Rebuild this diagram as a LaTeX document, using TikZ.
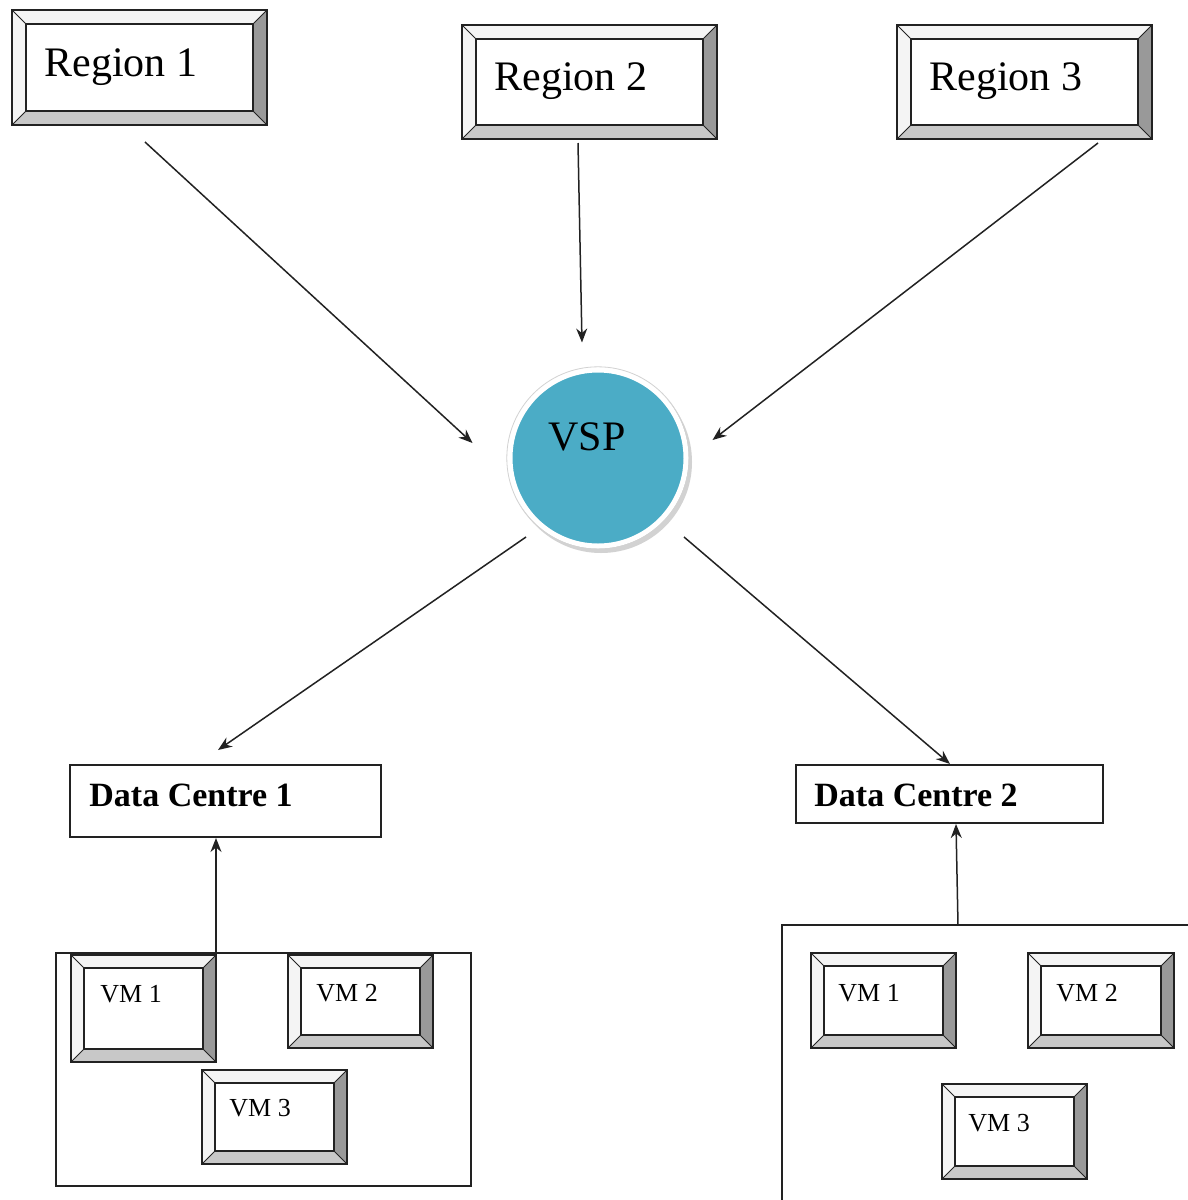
\documentclass[tikz,border=0pt]{standalone}
\usepackage{fontspec}
\setmainfont{Liberation Serif}
\usetikzlibrary{calc,arrows.meta}
\definecolor{vspblue}{HTML}{4BACC6}
\definecolor{bevlight}{HTML}{F4F4F4}
\definecolor{bevmid}{HTML}{C8C8C8}
\definecolor{bevdark}{HTML}{999999}
\definecolor{ink}{HTML}{222222}
\tikzset{
  boxshape/.style={rectangle, inner sep=0pt, outer sep=0pt},
  plainbox/.style={rectangle, draw=ink, line width=0.8pt, inner sep=0pt, outer sep=0pt},
  lbl/.style={anchor=base west, inner sep=0pt, text=black},
  arr/.style={draw=ink, line width=0.75pt, -{Stealth[length=7pt,width=5.5pt]}},
}
\newcommand\bevbox[6]{%
  \node[boxshape, minimum width={(#4-#2)*0.5pt}, minimum height={(#5-#3)*0.5pt}] (#1) at ({(#2+#4)/2},{(#3+#5)/2}) {};
  \coordinate (#1-inw) at ($(#1.north west)+(#6,#6)$);
  \coordinate (#1-ine) at ($(#1.north east)+(-#6,#6)$);
  \coordinate (#1-ise) at ($(#1.south east)+(-#6,-#6)$);
  \coordinate (#1-isw) at ($(#1.south west)+(#6,-#6)$);
  \fill[bevlight] (#1.north west) -- (#1.north east) -- (#1-ine) -- (#1-inw) -- cycle;
  \fill[bevlight] (#1.north west) -- (#1-inw) -- (#1-isw) -- (#1.south west) -- cycle;
  \fill[bevdark] (#1.north east) -- (#1.south east) -- (#1-ise) -- (#1-ine) -- cycle;
  \fill[bevmid] (#1.south west) -- (#1-isw) -- (#1-ise) -- (#1.south east) -- cycle;
  \fill[white] (#1-inw) rectangle (#1-ise);
  \draw[ink, line width=0.5pt] (#1.north west) -- (#1-inw) (#1.north east) -- (#1-ine)
       (#1.south east) -- (#1-ise) (#1.south west) -- (#1-isw);
  \draw[ink, line width=0.7pt] (#1-inw) rectangle (#1-ise);
  \draw[ink, line width=1.3pt] (#1.north west) rectangle (#1.south east);
}
\begin{document}
\begin{tikzpicture}[x=0.5pt,y=-0.5pt]
\useasboundingbox[fill=white] (0,0) rectangle (1188,1200);

% Regions
\bevbox{r1}{12}{10}{267}{125}{14}
\bevbox{r2}{462}{25}{717}{139}{14}
\bevbox{r3}{897}{25}{1152}{139}{14}
\node[lbl, font=\fontsize{21}{24}\selectfont] (r1t) at (44,76) {Region 1};
\node[lbl, font=\fontsize{21}{24}\selectfont] (r2t) at (494,90) {Region 2};
\node[lbl, font=\fontsize{21}{24}\selectfont] (r3t) at (929,90) {Region 3};

% VSP
\fill[gray!35] (601,462) circle[radius=45.5pt];
\node[circle, fill=vspblue, draw=white, line width=2.5pt, minimum size=88pt, inner sep=0pt] (vsp) at (598,458) {};
\draw[gray!35, line width=0.4pt] (598,458) circle[radius=45.6pt];
\node[lbl, font=\fontsize{21}{24}\selectfont] (vspt) at (548,450) {VSP};

% Data centres
\node[plainbox, minimum width=155.5pt, minimum height=36pt] (dc1) at (225.5,801) {};
\node[plainbox, minimum width=153.5pt, minimum height=29pt] (dc2) at (949.5,794) {};
\node[lbl, font=\fontsize{17}{20}\selectfont\bfseries] (dc1t) at (89,806) {Data Centre 1};
\node[lbl, font=\fontsize{17}{20}\selectfont\bfseries] (dc2t) at (814,806) {Data Centre 2};

% VM groups
\node[plainbox, minimum width=207.5pt, minimum height=116.5pt] (g1) at (263.5,1069.5) {};
\node[plainbox, minimum width=206.5pt, minimum height=145pt] (g2) at (988.5,1070) {};

\bevbox{g1v1}{71}{955}{216}{1062}{13}
\bevbox{g1v2}{288}{955}{433}{1048}{13}
\bevbox{g1v3}{202}{1070}{347}{1164}{13}
\bevbox{g2v1}{811}{953}{956}{1048}{13}
\bevbox{g2v2}{1028}{953}{1174}{1048}{13}
\bevbox{g2v3}{942}{1084}{1087}{1179}{13}
\node[lbl, font=\fontsize{13}{15}\selectfont] (g1v1t) at (100,1002) {VM 1};
\node[lbl, font=\fontsize{13}{15}\selectfont] (g1v2t) at (316,1001) {VM 2};
\node[lbl, font=\fontsize{13}{15}\selectfont] (g1v3t) at (229,1116) {VM 3};
\node[lbl, font=\fontsize{13}{15}\selectfont] (g2v1t) at (838,1001) {VM 1};
\node[lbl, font=\fontsize{13}{15}\selectfont] (g2v2t) at (1056,1001) {VM 2};
\node[lbl, font=\fontsize{13}{15}\selectfont] (g2v3t) at (968,1131) {VM 3};

% Connectors
\draw[arr] ([shift={(5.5,17)}]r1.south) -- ([shift={(-35,-15)}]vsp.west);
\draw[arr] ([shift={(-11.5,4)}]r2.south) -- ([shift={(-16,-25)}]vsp.north);
\draw[arr] ([shift={(73.5,4)}]r3.south) -- ([shift={(24,-18)}]vsp.east);
\draw[arr] ([shift={(-8,15)}]vsp.south west) -- ([shift={(-7.5,-15)}]dc1.north);
\draw[arr] ([shift={(22,15)}]vsp.south east) -- ([shift={(0.5,-1)}]dc2.north);
\draw[arr] ([shift={(160,0)}]g1.north west) -- ([shift={(-9.5,1)}]dc1.south);
\draw[arr] ([shift={(176,0)}]g2.north west) -- ([shift={(6.5,1)}]dc2.south);
\end{tikzpicture}
\end{document}
